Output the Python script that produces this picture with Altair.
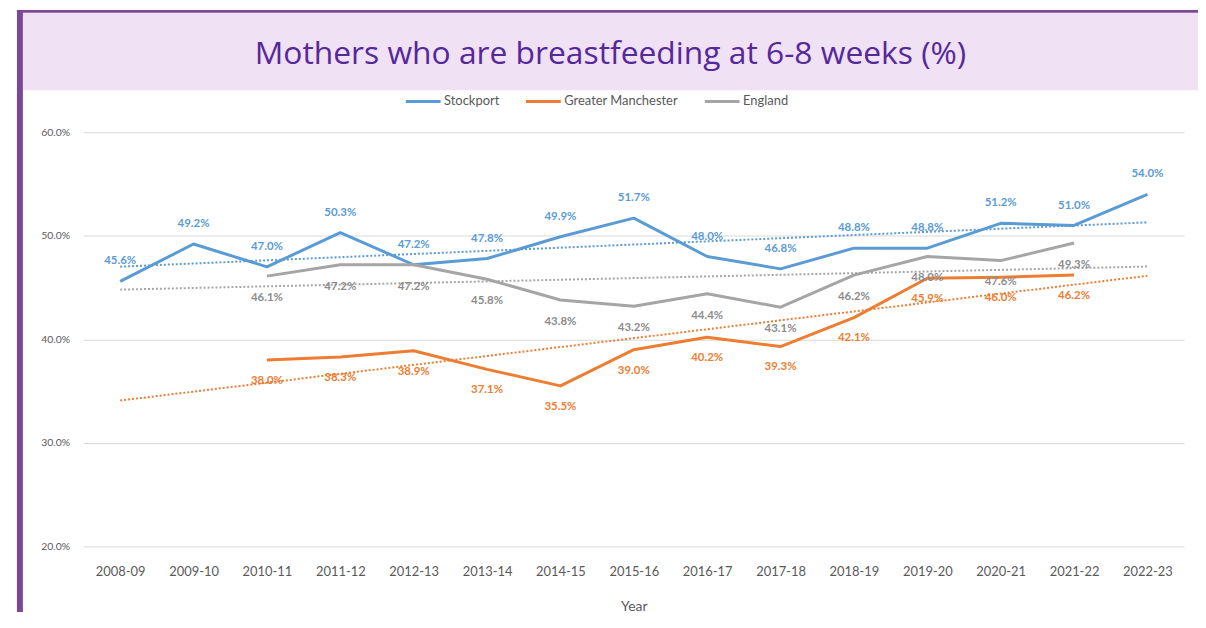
import altair as alt
import pandas as pd

years = ["2008-09", "2009-10", "2010-11", "2011-12", "2012-13", "2013-14", "2014-15",
         "2015-16", "2016-17", "2017-18", "2018-19", "2019-20", "2020-21", "2021-22", "2022-23"]
stockport = [45.6, 49.2, 47.0, 50.3, 47.2, 47.8, 49.9, 51.7, 48.0, 46.8, 48.8, 48.8, 51.2, 51.0, 54.0]
greater_manchester = [None, None, 38.0, 38.3, 38.9, 37.1, 35.5, 39.0, 40.2, 39.3, 42.1, 45.9, 46.0, 46.2, None]
england = [None, None, 46.1, 47.2, 47.2, 45.8, 43.8, 43.2, 44.4, 43.1, 46.2, 48.0, 47.6, 49.3, None]
series_names = ["Stockport", "Greater Manchester", "England"]
series_colors = ["#5B9BD5", "#ED7D31", "#A5A5A5"]
label_colors = ["#5B9BD5", "#ED7D31", "#8C8C8C"]
y_ticks = [20, 30, 40, 50, 60]
title_text = "Mothers who are breastfeeding at 6-8 weeks (%)"

rows = []
for name, vals in zip(series_names, [stockport, greater_manchester, england]):
    for i, (yr, v) in enumerate(zip(years, vals)):
        if v is not None:
            rows.append({"series": name, "idx": i, "year": yr, "value": v})
df = pd.DataFrame(rows)

year_expr = "[" + ",".join("'%s'" % y for y in years) + "][datum.value]"

FONT = "Lato"
x_enc = alt.X("idx:Q",
              scale=alt.Scale(domain=[-0.5, len(years) - 0.5], nice=False, zero=False),
              axis=alt.Axis(values=list(range(len(years))), labelExpr=year_expr, title="Year",
                            grid=False, ticks=False, domain=False, labelFlush=False,
                            labelOverlap=False, labelFontSize=13, labelColor="#595959",
                            labelFont=FONT, labelPadding=19, titleFont=FONT, titleFontSize=14,
                            titleColor="#595959", titleFontWeight="normal", titlePadding=22))
y_enc = alt.Y("value:Q",
              scale=alt.Scale(domain=[20, 60], nice=False, zero=False),
              axis=alt.Axis(values=y_ticks, labelExpr="format(datum.value,'.1f')+'%'", title=None,
                            ticks=False, domain=False, gridColor="#D9D9D9", gridWidth=1,
                            labelPadding=14, labelFontSize=10.5, labelColor="#595959",
                            labelFont=FONT))

color_scale = alt.Scale(domain=series_names, range=series_colors)

base = alt.Chart(df)

lines = base.mark_line(strokeWidth=3, strokeJoin="round").encode(
    x=x_enc, y=y_enc,
    color=alt.Color("series:N", scale=color_scale,
                    legend=alt.Legend(orient="none", legendX=323, legendY=-50,
                                      direction="horizontal", title=None, symbolType="stroke",
                                      symbolSize=1225, symbolStrokeWidth=3, labelFontSize=13,
                                      labelFont=FONT, labelColor="#595959", columnPadding=20,
                                      labelOffset=2)),
    detail="series:N",
)

trends = base.transform_regression(
    "idx", "value", groupby=["series"], extent=[0, len(years) - 1]
).mark_line(strokeWidth=2, strokeDash=[2, 2]).encode(
    x=x_enc, y=y_enc,
    color=alt.Color("series:N", scale=color_scale, legend=None),
    detail="series:N",
)

label_dy = {"Stockport": -20, "Greater Manchester": 21, "England": 22}
label_layers = []
for name, col in zip(series_names, label_colors):
    label_layers.append(
        base.transform_filter(alt.datum.series == name)
        .transform_calculate(lbl="format(datum.value,'.1f')+'%'")
        .mark_text(dy=label_dy[name], fontSize=11.5, fontWeight="bold", font=FONT, color=col)
        .encode(x=x_enc, y=y_enc, text="lbl:N")
    )

one = pd.DataFrame({"k": [0]})
header = alt.Chart(one).mark_rect(color="#F0E1F5").encode(
    x=alt.value(-61), x2=alt.value(1122), y=alt.value(-120.3), y2=alt.value(-42.3))
top_bar = alt.Chart(one).mark_rect(color="#7B4896").encode(
    x=alt.value(-67), x2=alt.value(1122), y=alt.value(-123), y2=alt.value(-120.3))
left_bar = alt.Chart(one).mark_rect(color="#7B4896").encode(
    x=alt.value(-67), x2=alt.value(-61), y=alt.value(-123), y2=alt.value(483))
title = alt.Chart(pd.DataFrame({"t": [title_text]})).mark_text(
    font="Open Sans", fontSize=32, fontWeight=500, color="#55289B", align="center",
    baseline="middle"
).encode(x=alt.value(530.5), y=alt.value(-79), text="t:N")

chart = alt.layer(header, top_bar, left_bar, lines, trends, *label_layers, title).properties(
    width=1108, height=417,
    autosize=alt.AutoSizeParams(type="none"),
    padding={"left": 76, "top": 123, "right": 14, "bottom": 66},
    background="white",
).configure_view(stroke=None)

chart.save("out.html", embed_options={"renderer": "svg", "actions": False})
